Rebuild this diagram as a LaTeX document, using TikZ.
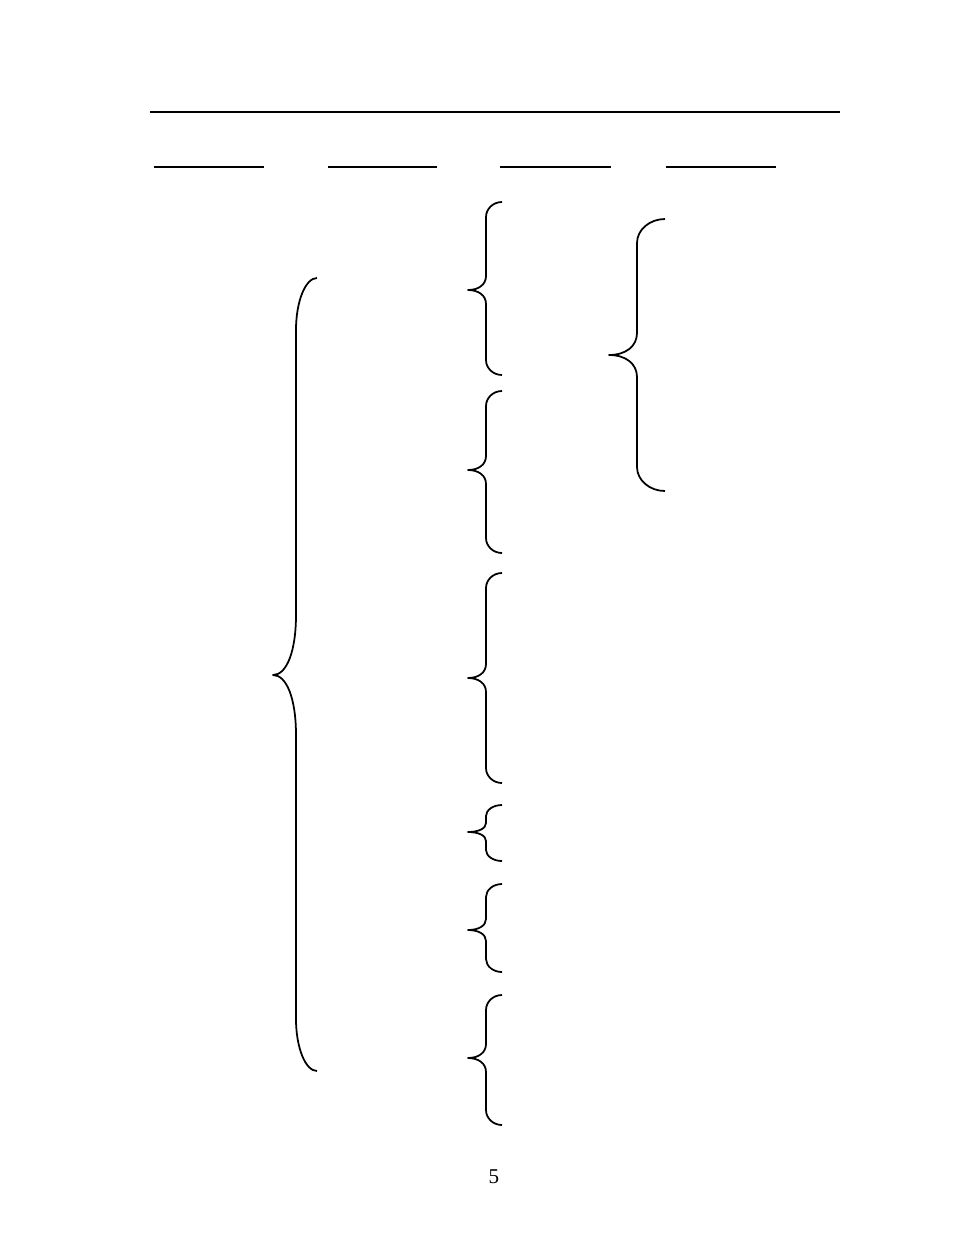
\documentclass[tikz,border=0pt]{standalone}
\usepackage{fontspec}
\setmainfont{Liberation Serif}
\usepackage{tikz}

\begin{document}
\begin{tikzpicture}[x=0.02cm, y=-0.02cm,
      rule/.style={line width=1pt},
      bracepath/.style={line width=1pt, line join=round},
      pagenum/.style={font=\fontsize{12pt}{14pt}\selectfont, inner sep=0pt}]
      \useasboundingbox (0,0) rectangle (954,1235);
      % header rule and column rules
      \draw[rule] (150,112) -- (840,112);
      \foreach \xa/\xb in {154/264, 328/437, 500/611, 666/776}
        \draw[rule] (\xa,167) -- (\xb,167);
      % braces: end x / spine x / tip x / top / middle / bottom / end curve / tip curve
      \foreach \E/\S/\T/\yt/\ym/\yb/\a/\b in {
          317/296/273/278/675/1071/52/60,
          502/486/468/202/290/375/15/14,
          502/486/468/391/470/553/15/14,
          502/486/468/573/678/783/15/14,
          502/486/468/805/832/861/11/9,
          502/486/468/884/930/972/13/11,
          502/486/468/995/1058/1125/15/14,
          665/637/609/219/355/491/24/22}
        \draw[bracepath] (\E,\yt)
          .. controls (\S+0.45*\E-0.45*\S,\yt) and (\S,\yt+0.45*\a) .. (\S,\yt+\a)
          -- (\S,\ym-\b)
          .. controls (\S,\ym-0.4*\b) and (0.4*\T+0.6*\S,\ym) .. (\T,\ym)
          .. controls (0.4*\T+0.6*\S,\ym) and (\S,\ym+0.4*\b) .. (\S,\ym+\b)
          -- (\S,\yb-\a)
          .. controls (\S,\yb-0.45*\a) and (\S+0.45*\E-0.45*\S,\yb) .. (\E,\yb);
      \node[pagenum] (page) at (494,1177) {5};
\end{tikzpicture}
\end{document}
